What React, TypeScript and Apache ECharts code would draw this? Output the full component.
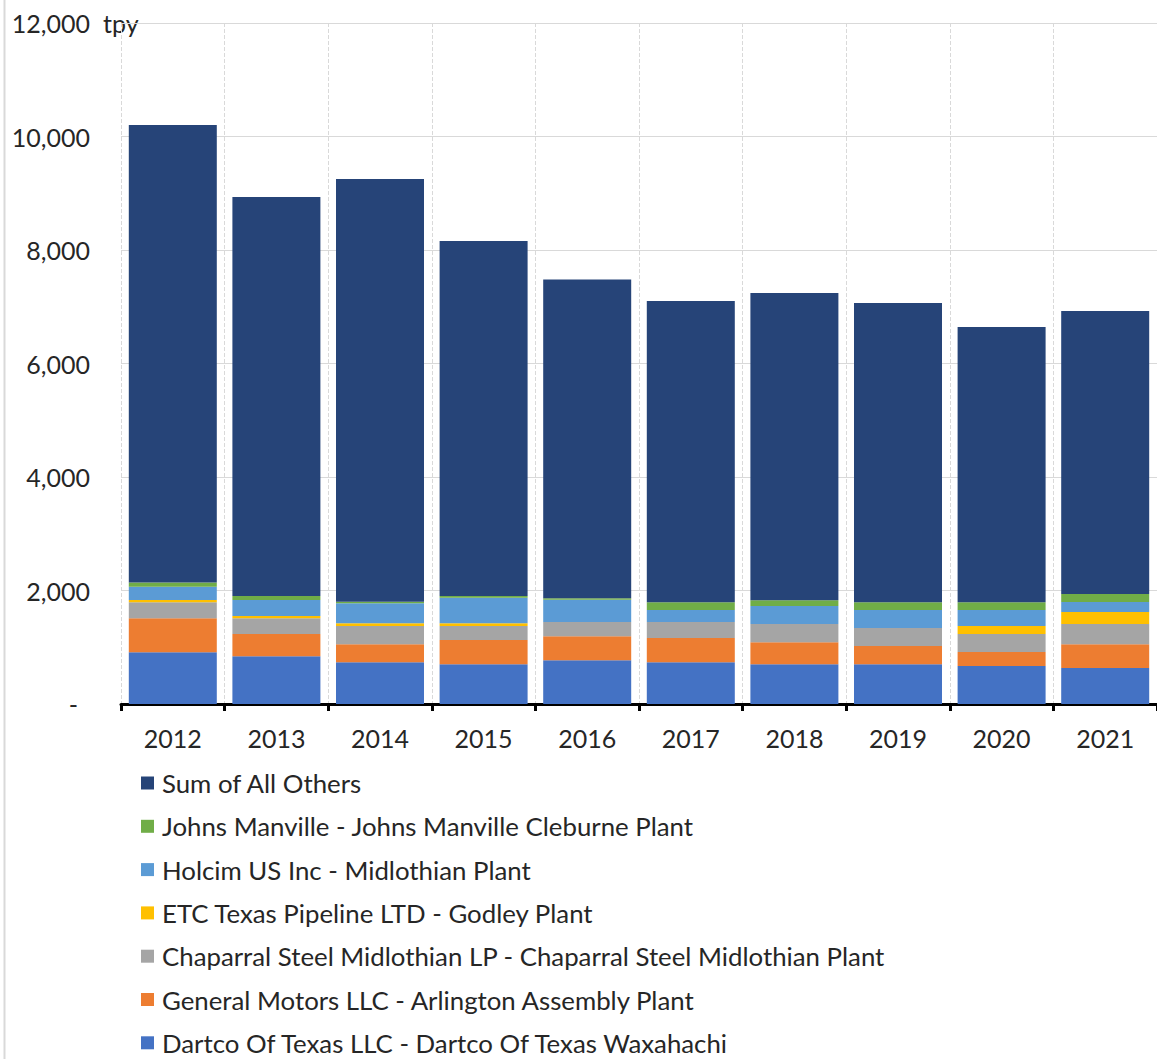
import React, { useEffect, useRef } from "react";
import * as echarts from "echarts";

const years = ["2012", "2013", "2014", "2015", "2016", "2017", "2018", "2019", "2020", "2021"];
const dartco = [911, 840, 735, 699, 770, 735, 699, 699, 670, 634];
const generalMotors = [599, 393, 317, 429, 423, 428, 388, 323, 246, 418];
const chaparral = [282, 277, 322, 246, 252, 282, 323, 317, 317, 358];
const etcTexas = [40, 41, 48, 48, 0, 0, 0, 0, 141, 211];
const holcim = [234, 282, 352, 451, 390, 211, 317, 317, 282, 176];
const johnsManville = [77, 70, 29, 30, 28, 136, 100, 136, 136, 141];
const allOthers = [8059, 7031, 7448, 6256, 5616, 5309, 5415, 5274, 4851, 4987];

const seriesDefs = [
  { name: "Dartco Of Texas LLC - Dartco Of Texas Waxahachi", data: dartco, color: "#4472C4" },
  { name: "General Motors LLC - Arlington Assembly Plant", data: generalMotors, color: "#ED7D31" },
  { name: "Chaparral Steel Midlothian LP - Chaparral Steel Midlothian Plant", data: chaparral, color: "#A5A5A5" },
  { name: "ETC Texas Pipeline LTD - Godley Plant", data: etcTexas, color: "#FFC000" },
  { name: "Holcim US Inc - Midlothian Plant", data: holcim, color: "#5B9BD5" },
  { name: "Johns Manville - Johns Manville Cleburne Plant", data: johnsManville, color: "#70AD47" },
  { name: "Sum of All Others", data: allOthers, color: "#264478" },
];

const FONT = "Lato";

export default function App() {
  const ref = useRef<HTMLDivElement>(null);
  useEffect(() => {
    if (!ref.current) return;
    const chart = echarts.init(ref.current, null, { renderer: "svg" });
    chart.setOption({
      animation: false,
      backgroundColor: "#ffffff",
      textStyle: { fontFamily: FONT },
      grid: { left: 121, top: 23, width: 1040, height: 681, containLabel: false },
      xAxis: {
        type: "category",
        data: years,
        boundaryGap: true,
        axisLine: { show: true, lineStyle: { color: "#000000", width: 3 } },
        axisTick: { show: true, alignWithLabel: false, length: 7, lineStyle: { color: "#000000", width: 3 } },
        axisLabel: { color: "#262626", fontSize: 25, fontFamily: FONT, margin: 21 },
        splitLine: { show: true, lineStyle: { color: "#d9d9d9", type: "dashed", width: 1 } },
      },
      yAxis: {
        type: "value",
        min: 0,
        max: 12000,
        interval: 2000,
        axisLine: { show: false },
        axisTick: { show: false },
        splitLine: { show: true, lineStyle: { color: "#d9d9d9", width: 1 } },
        axisLabel: {
          color: "#262626",
          fontSize: 25,
          fontFamily: FONT,
          margin: 31,
          formatter: (v: number) =>
            v === 0 ? "{z|-}" : v.toLocaleString("en-US"),
          rich: { z: { fontSize: 25, fontFamily: FONT, color: "#262626", padding: [0, 12, 0, 0] } },
        },
      },
      legend: {
        orient: "vertical",
        left: 141,
        top: 770,
        height: 340,
        padding: 0,
        itemWidth: 13,
        itemHeight: 13,
        itemGap: 17.3,
        icon: "rect",
        data: seriesDefs.map((s) => s.name).reverse(),
        textStyle: { fontSize: 25.8, fontFamily: FONT, color: "#262626", padding: [0, 0, 0, 3] },
      },
      graphic: [
        { type: "line", shape: { x1: 4.5, y1: 0, x2: 4.5, y2: 1059 }, style: { stroke: "#d9d9d9", lineWidth: 2 } },
        { type: "rect", shape: { x: 99, y: 10, width: 44, height: 26 }, style: { fill: "#ffffff" } },
        {
          type: "text",
          x: 103,
          y: 23,
          style: { text: "tpy", fontSize: 25, fontFamily: FONT, fill: "#262626", textVerticalAlign: "middle", verticalAlign: "middle" },
        },
      ],
      series: seriesDefs.map((s) => ({
        name: s.name,
        type: "bar",
        stack: "total",
        data: s.data,
        barWidth: 88,
        itemStyle: { color: s.color },
      })),
    });
    return () => chart.dispose();
  }, []);
  return <div ref={ref} style={{ position: "fixed", left: 0, top: 0, width: 1157, height: 1059 }} />;
}
